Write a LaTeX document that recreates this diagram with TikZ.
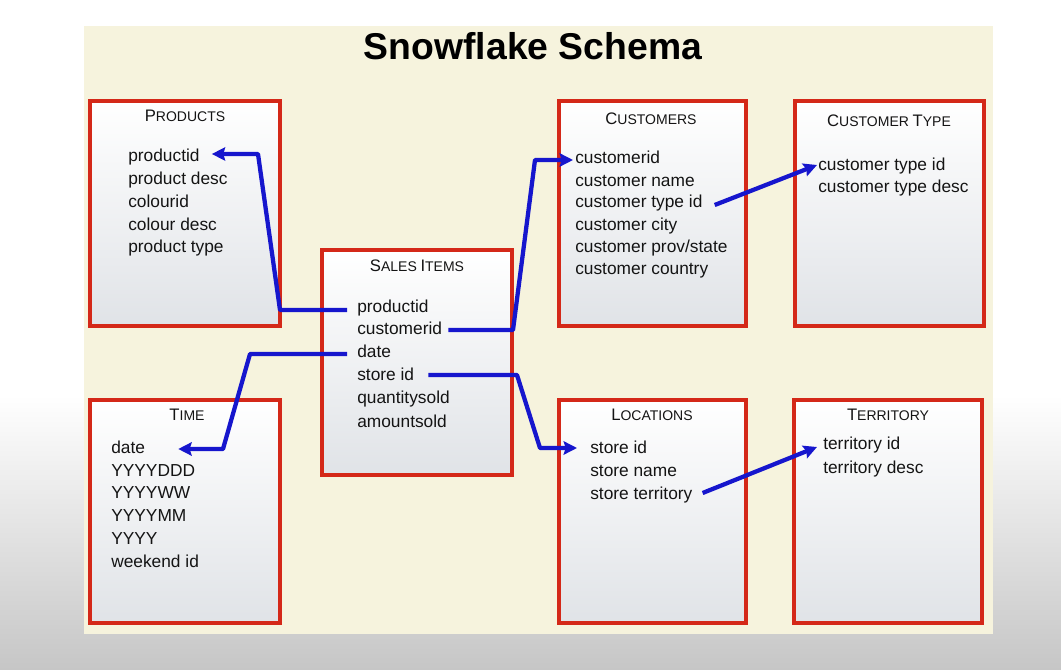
\documentclass[tikz,border=0pt]{standalone}
\usepackage{fontspec}
\setmainfont{Liberation Sans}
\usetikzlibrary{arrows.meta,calc}
\definecolor{bred}{RGB}{212,40,24}
\definecolor{lblue}{RGB}{22,22,205}
\definecolor{beige}{RGB}{246,243,221}
\definecolor{boxbot}{RGB}{224,227,231}
\definecolor{ink}{RGB}{20,20,20}
\newcommand\tcap[2]{{\fontsize{12.5}{14}\selectfont #1}{\fontsize{10.5}{12}\selectfont #2}}
\tikzset{
  tbl/.style={draw=bred,line width=3pt,top color=white,bottom color=boxbot},
  fld/.style={anchor=base west,inner sep=0pt,font=\fontsize{13}{15}\selectfont,text=ink},
  hdr/.style={anchor=base,inner sep=0pt,text=ink},
  link/.style={draw=lblue,line width=3.2pt,line join=round,-{Stealth[length=10pt,width=10pt,inset=1.5pt]}}
}
\begin{document}
\begin{tikzpicture}[x=0.75pt,y=-0.75pt]
\useasboundingbox (0,0) rectangle (1061,670);
% background
\fill[white] (0,0) rectangle (1061,395);
\shade[top color=white,bottom color={rgb,255:red,198;green,198;blue,198}] (0,395) rectangle (1061,670);
\fill[beige] (84,26) rectangle (993,634);
\node[hdr,font=\fontsize{28}{32}\selectfont\bfseries,text=black] (title) at (533,60) {Snowflake Schema};
% tables
\draw[tbl] (90,101) rectangle (280,326);
\draw[tbl] (322,250) rectangle (512,475);
\draw[tbl] (559,101) rectangle (746,326);
\draw[tbl] (795,101) rectangle (984,326);
\draw[tbl] (90,400) rectangle (280,623);
\draw[tbl] (559,400) rectangle (746,623);
\draw[tbl] (794,400) rectangle (982,623);
% headers
\node[hdr] (hprod) at (185,122) {\tcap{P}{RODUCTS}};
\node[hdr] (hsales) at (417,272) {\tcap{S}{ALES} \tcap{I}{TEMS}};
\node[hdr] (hcust) at (651,125) {\tcap{C}{USTOMERS}};
\node[hdr] (hctype) at (889,127) {\tcap{C}{USTOMER} \tcap{T}{YPE}};
\node[hdr] (htime) at (187,421) {\tcap{T}{IME}};
\node[hdr] (hloc) at (652,421) {\tcap{L}{OCATIONS}};
\node[hdr] (hterr) at (888,421) {\tcap{T}{ERRITORY}};
% products
\node[fld] (p1) at (128,162) {productid};
\node[fld] (p2) at (128,185) {product desc};
\node[fld] (p3) at (128,208) {colourid};
\node[fld] (p4) at (128,231) {colour desc};
\node[fld] (p5) at (128,253) {product type};
% sales items
\node[fld] (s1) at (357,313) {productid};
\node[fld] (s2) at (357,335) {customerid};
\node[fld] (s3) at (357,358) {date};
\node[fld] (s4) at (357,381) {store id};
\node[fld] (s5) at (357,404) {quantitysold};
\node[fld] (s6) at (357,427) {amountsold};
% customers
\node[fld] (c1) at (575,164) {customerid};
\node[fld] (c2) at (575,187) {customer name};
\node[fld] (c3) at (575,208) {customer type id};
\node[fld] (c4) at (575,231) {customer city};
\node[fld] (c5) at (575,253) {customer prov/state};
\node[fld] (c6) at (575,275) {customer country};
% customer type
\node[fld] (ct1) at (818,171) {customer type id};
\node[fld] (ct2) at (818,193) {customer type desc};
% time
\node[fld] (t1) at (111,453) {date};
\node[fld] (t2) at (111,476) {YYYYDDD};
\node[fld] (t3) at (111,498) {YYYYWW};
\node[fld] (t4) at (111,521) {YYYYMM};
\node[fld] (t5) at (111,544) {YYYY};
\node[fld] (t6) at (111,567) {weekend id};
% locations
\node[fld] (l1) at (590,453) {store id};
\node[fld] (l2) at (590,476) {store name};
\node[fld] (l3) at (590,499) {store territory};
% territory
\node[fld] (tr1) at (823,450) {territory id};
\node[fld] (tr2) at (823,473) {territory desc};
% connectors
\draw[link] ($(s1.base west)+(-10,-3)$) -- (280,310) -- (258,154) -- ($(p1.base east)+(12,-8)$);
\draw[link] ($(s3.base west)+(-10,-4)$) -- (250,354) -- (223,449) -- ($(t1.base east)+(33,-4)$);
\draw[link] ($(s2.base east)+(6,-5)$) -- (513,330) -- (535,160) -- ($(c1.base west)+(-2,-4)$);
\draw[link] ($(s4.base east)+(14,-6)$) -- (517,375) -- (540,448) -- ($(l1.base west)+(-13,-5)$);
\draw[link] ($(c3.base east)+(12,-3)$) -- ($(ct1.base west)+(-1,-6)$);
\draw[link] ($(l3.base east)+(10,-6)$) -- ($(tr1.base west)+(-6,-3)$);
\end{tikzpicture}
\end{document}
